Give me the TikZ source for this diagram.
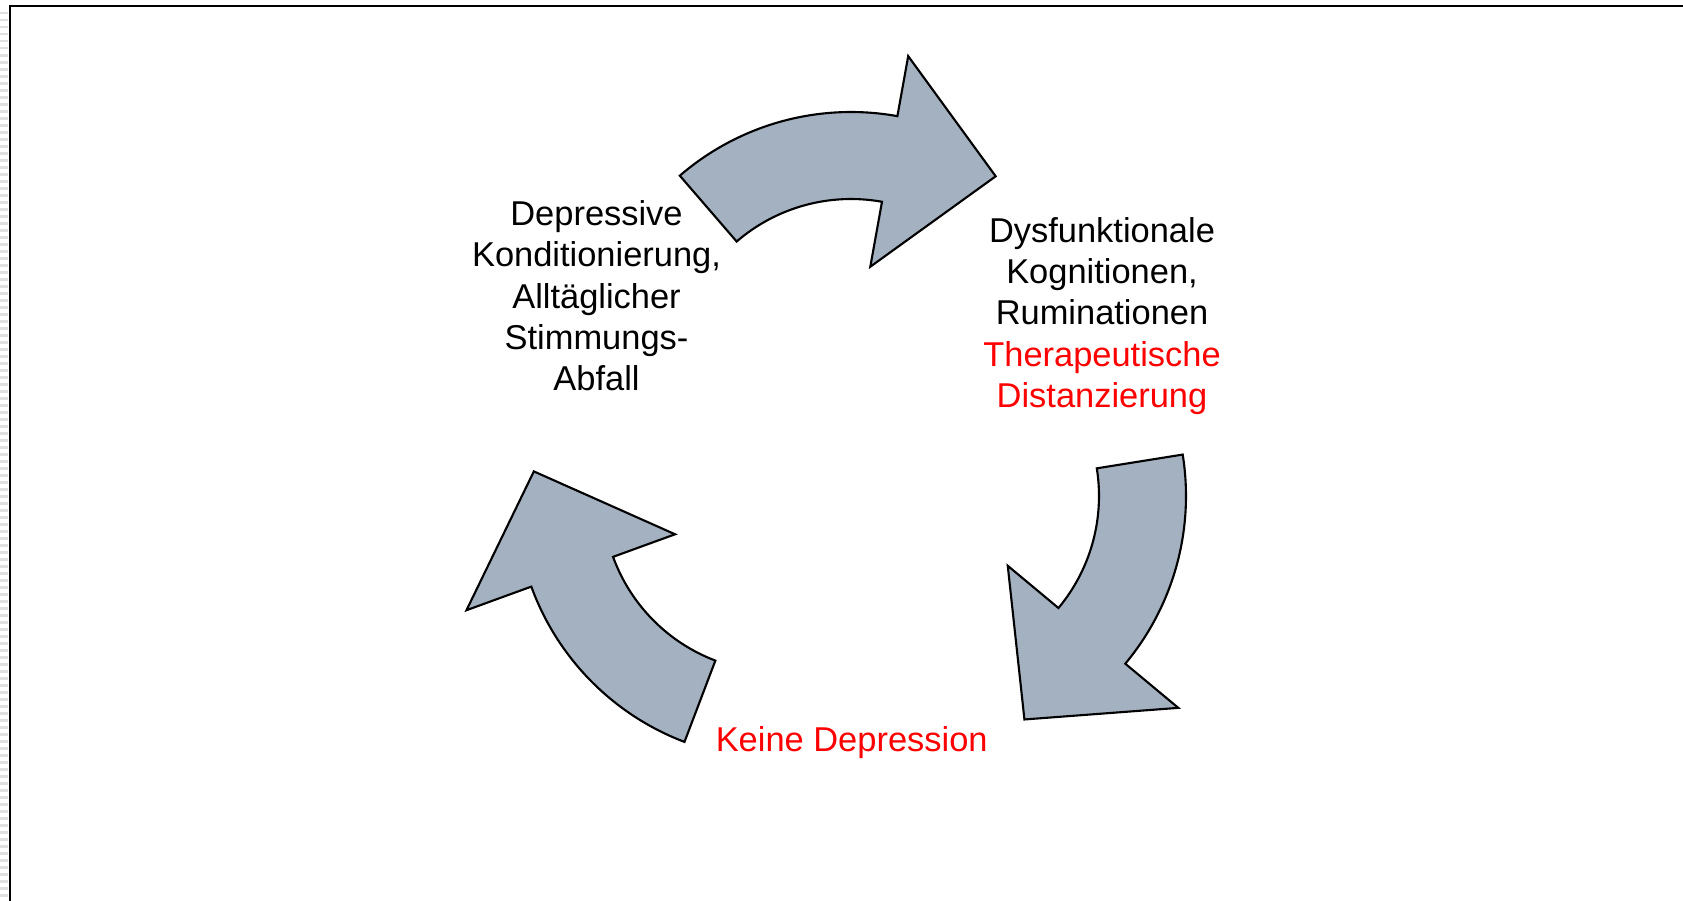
\documentclass[tikz,border=0pt]{standalone}
\usepackage{fontspec}
\setmainfont{Liberation Sans}
\usetikzlibrary{positioning}
\definecolor{arrowgray}{RGB}{163,177,192}
\definecolor{stripegray}{RGB}{224,224,224}

\begin{document}
\begin{tikzpicture}[
  cyclearrow/.style={draw=black, fill=arrowgray, line width=0.6pt, line join=miter},
  cycletext/.style={align=center, inner sep=0pt, font=\fontsize{9.8}{11.7}\selectfont}
]
\useasboundingbox (0,0) rectangle (16.83,-9.01);

% frame
\foreach \y in {0.12,0.19,...,9.0}
    \fill[stripegray] (0,-\y) rectangle (0.08,-\y-0.025);
\draw[line width=0.6pt] (0.1,-9.01) -- (0.1,-0.063) -- (16.83,-0.063);

% block arrows of the cycle
\foreach \cx/\cy/\ta/\ha/\barb [evaluate=\ha as \tipa using \ha-26] in {
  8.51/-3.74/130.8/79.8/3.23,
  9.24/-4.96/9.1/-39.8/3.31,
  7.775/-4.97/-110.8/-160/3.31}
    \draw[cyclearrow, shift={(\cx,\cy)}]
      (\ta:2.62) arc[start angle=\ta, end angle=\ha, radius=2.62]
      -- (\ha:\barb) -- (\tipa:2.45) -- (\ha:1.09) -- (\ha:1.75)
      arc[start angle=\ha, end angle=\ta, radius=1.75] -- cycle;

\node[cycletext] (cond) at (5.965,-2.957)
  {Depressive\\Konditionierung,\\Alltäglicher\\Stimmungs-\\Abfall};
\node[cycletext] (cogn) at (11.02,-3.16)
  {Dysfunktionale\\Kognitionen,\\Ruminationen\\\textcolor{red}{Therapeutische}\\\textcolor{red}{Distanzierung}};
\node[cycletext, text=red, anchor=base] (nodep) at (8.517,-7.517) {Keine Depression};

\end{tikzpicture}
\end{document}
